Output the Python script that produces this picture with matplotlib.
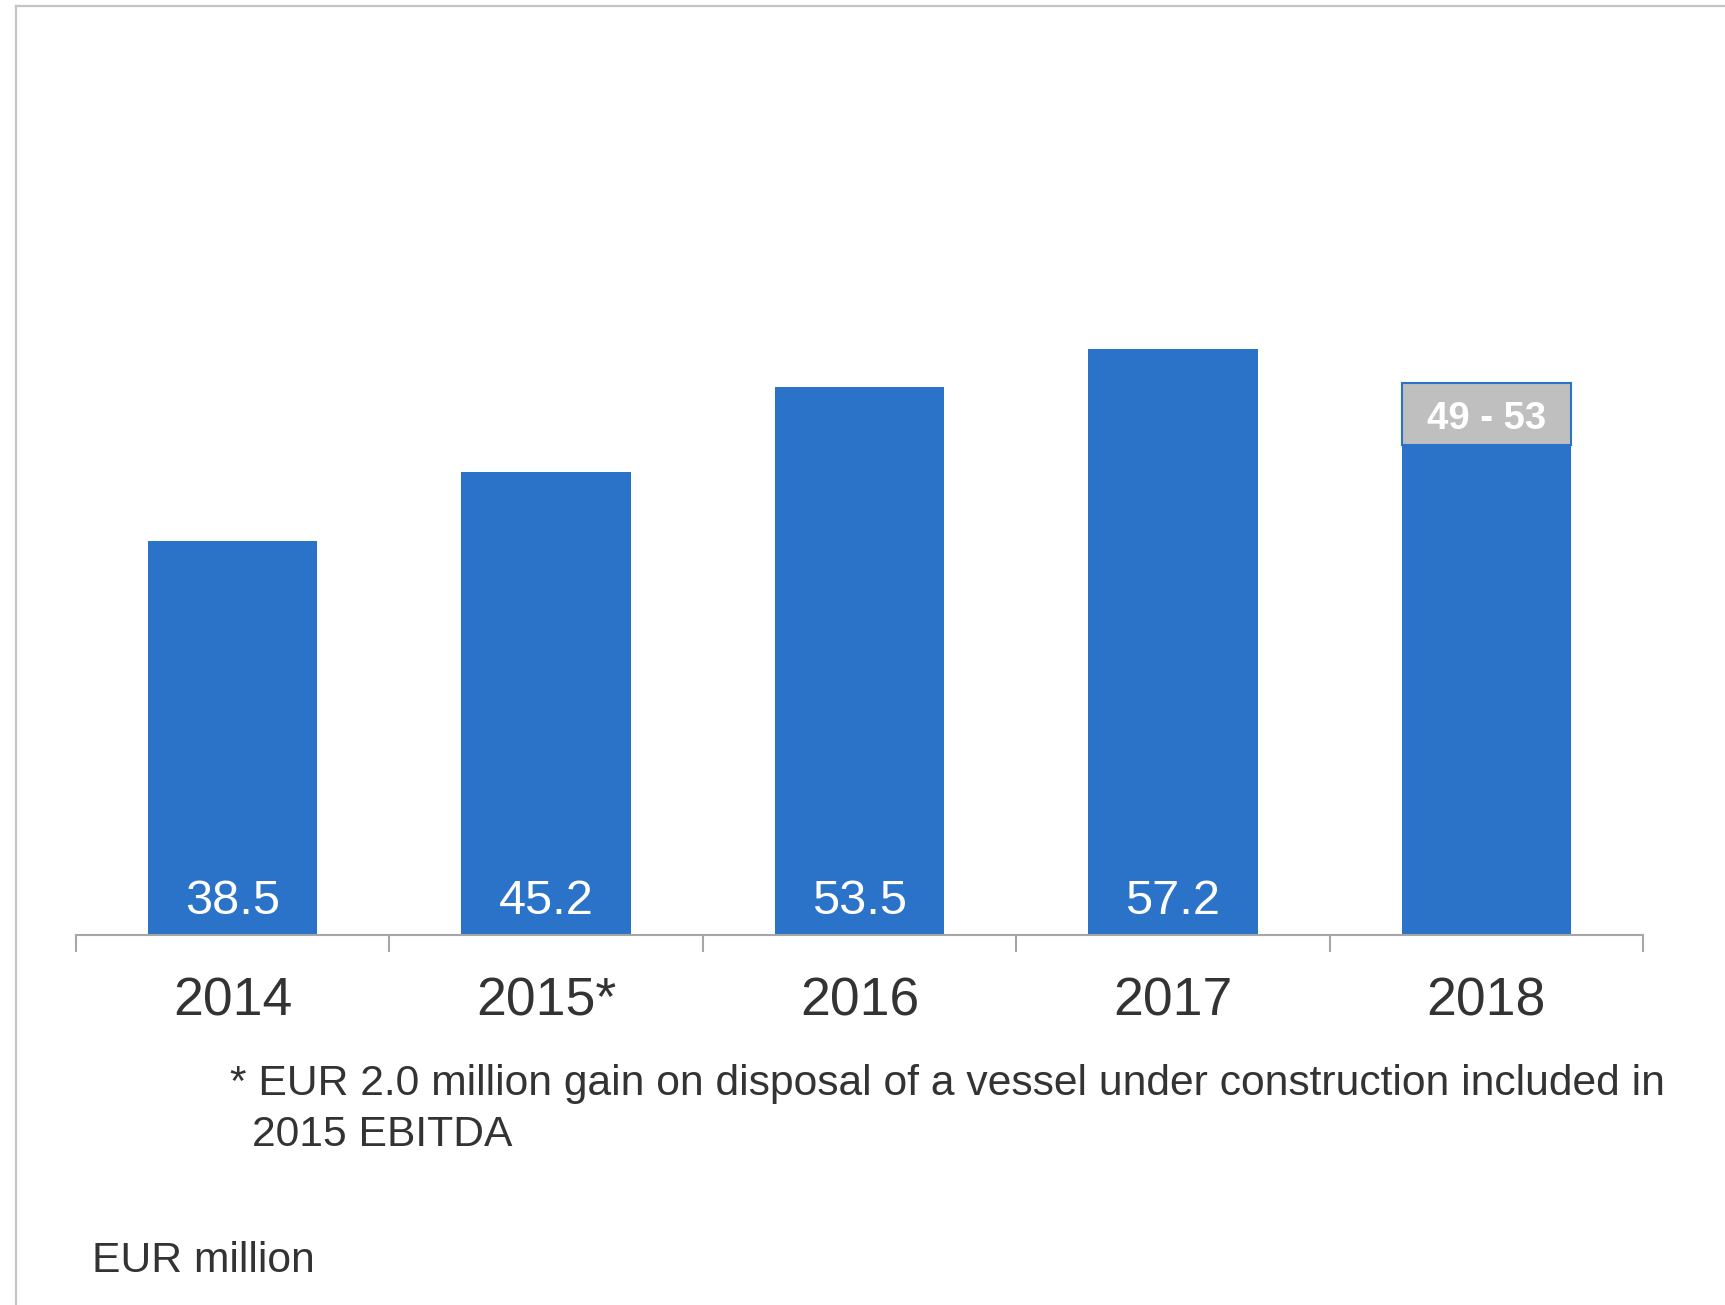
import matplotlib
matplotlib.use("Agg")
import matplotlib.pyplot as plt
from matplotlib.lines import Line2D
from matplotlib.patches import Rectangle

plt.rcParams['font.family'] = ['Liberation Sans', 'DejaVu Sans']

# EBITDA, EUR million
years = ["2014", "2015*", "2016", "2017", "2018"]
actuals = [38.5, 45.2, 53.5, 57.2]
guidance_low = 49
guidance_high = 53
footnote_line1 = "* EUR 2.0 million gain on disposal of a vessel under construction included in"
footnote_line2 = "2015 EBITDA"
unit_label = "EUR million"

BAR_BLUE = "#2A73C8"
TEXT_DARK = "#333333"
BOX_GREY = "#BFBFBF"

W, H = 1725, 1305
fig = plt.figure(figsize=(W / 100, H / 100), dpi=100)
ax = fig.add_axes([76 / W, 1 - 935 / H, (1643 - 76) / W, 835 / H])

guidance_mid = (guidance_low + guidance_high) / 2
values = actuals + [guidance_mid]
x = list(range(len(years)))
bar_w = 0.541
ax.bar(x, values, width=bar_w, color=BAR_BLUE, zorder=2)

# value labels sit inside the bars, near the baseline
for i, v in enumerate(actuals):
    ax.annotate(f"{v:.1f}", xy=(i, 0), xytext=(0, 24), textcoords="offset points",
                ha="center", va="center", color="white", fontsize=35)

# guidance range box on top of the 2018 bar
box = Rectangle((x[-1] - bar_w / 2, guidance_mid - 3.2), bar_w, 6.1,
                facecolor=BOX_GREY, edgecolor=BAR_BLUE, linewidth=1.5, zorder=3)
ax.add_patch(box)
ax.text(x[-1], guidance_mid - 0.6, f"{guidance_low} - {guidance_high}", ha="center",
        va="center", color="white", fontsize=27.5, fontweight="bold", zorder=4)

ax.set_xlim(-0.5, len(years) - 0.5)
ax.set_ylim(0, 81.5)
for side in ("top", "right", "left"):
    ax.spines[side].set_visible(False)
ax.spines["bottom"].set_color("#A6A6A6")
ax.spines["bottom"].set_linewidth(1.5)
ax.set_yticks([])

ax.set_xticks(x)
ax.set_xticklabels(years, fontsize=38.5, color=TEXT_DARK)
ax.tick_params(axis="x", which="major", length=0, pad=30)
ax.set_xticks([i - 0.5 for i in range(len(years) + 1)], minor=True)
ax.tick_params(axis="x", which="minor", length=12, width=1.5, color="#A6A6A6")

fig.text(230 / W, 1 - 1084 / H, footnote_line1, fontsize=30.7, color=TEXT_DARK,
         ha="left", va="center")
fig.text(252 / W, 1 - 1135 / H, footnote_line2, fontsize=30.7, color=TEXT_DARK,
         ha="left", va="center")
fig.text(92 / W, 1 - 1261 / H, unit_label, fontsize=30.7, color=TEXT_DARK,
         ha="left", va="center")

# light frame along the top and left edges
fig.add_artist(Line2D([16 / W, 1], [1 - 6 / H, 1 - 6 / H], color="#C4C4C4", linewidth=1.6))
fig.add_artist(Line2D([16 / W, 16 / W], [0, 1 - 6 / H], color="#C4C4C4", linewidth=1.6))

fig.savefig("out.png", dpi=100)
